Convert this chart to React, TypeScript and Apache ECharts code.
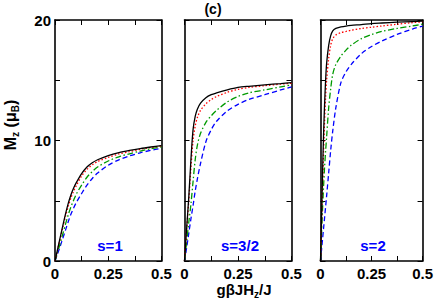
import React, { useEffect, useRef } from 'react';
import * as echarts from 'echarts';

// ---- data ----
const PANEL_LABELS = ['s=1', 's=3/2', 's=2'];
const X_LABEL_VALUES = [0, 0.25, 0.5];
const X_TICK_LABELS = ['0', '0.25', '0.5'];
const Y_LABEL_VALUES = [0, 10, 20];
const Y_TICK_LABELS = ['0', '10', '20'];

// s = 1
const S1_X = [0, 0.0125, 0.025, 0.0375, 0.05, 0.0625, 0.075, 0.0875, 0.1, 0.125, 0.15, 0.175, 0.2, 0.25, 0.3, 0.35, 0.4, 0.45, 0.5];
const S1_BLACK = [0, 1.0, 2.0, 3.0, 3.95, 4.8, 5.5, 6.05, 6.5, 7.25, 7.8, 8.15, 8.4, 8.75, 9.0, 9.18, 9.33, 9.46, 9.58];
const S1_RED = [0, 0.95, 1.9, 2.85, 3.75, 4.55, 5.25, 5.8, 6.25, 7.05, 7.6, 7.98, 8.25, 8.6, 8.88, 9.08, 9.27, 9.42, 9.55];
const S1_GREEN = [0, 0.75, 1.5, 2.3, 3.1, 3.85, 4.5, 5.05, 5.55, 6.3, 6.95, 7.42, 7.8, 8.3, 8.65, 8.9, 9.12, 9.31, 9.47];
const S1_BLUE = [0, 0.63, 1.25, 1.93, 2.6, 3.28, 3.9, 4.4, 4.85, 5.6, 6.3, 6.85, 7.3, 7.95, 8.4, 8.72, 8.98, 9.18, 9.35];

// s = 3/2
const S2_X = [0, 0.01, 0.02, 0.03, 0.04, 0.05, 0.06, 0.075, 0.1, 0.125, 0.15, 0.2, 0.25, 0.3, 0.375, 0.45, 0.5];
const S2_BLACK = [0, 2.7, 5.3, 8.4, 10.9, 12.0, 12.6, 13.1, 13.55, 13.8, 13.95, 14.2, 14.4, 14.5, 14.62, 14.72, 14.8];
const S2_RED = [0, 2.6, 5.0, 7.7, 10.0, 11.2, 11.9, 12.5, 13.05, 13.4, 13.65, 14.0, 14.24, 14.4, 14.55, 14.68, 14.75];
const S2_GREEN = [0, 1.6, 3.2, 4.7, 6.6, 8.4, 9.6, 10.6, 11.5, 12.05, 12.5, 13.2, 13.65, 13.95, 14.2, 14.45, 14.6];
const S2_BLUE = [0, 1.1, 2.3, 3.5, 4.6, 5.8, 6.8, 8.1, 9.9, 10.9, 11.6, 12.45, 13.0, 13.4, 13.8, 14.2, 14.45];

// s = 2
const S3_X = [0, 0.005, 0.01, 0.015, 0.02, 0.025, 0.03, 0.04, 0.05, 0.06, 0.075, 0.1, 0.125, 0.15, 0.2, 0.25, 0.3, 0.375, 0.45, 0.5];
const S3_BLACK = [0, 3.5, 7.2, 10.5, 13.0, 15.0, 16.4, 17.9, 18.7, 19.1, 19.3, 19.42, 19.5, 19.55, 19.62, 19.7, 19.75, 19.82, 19.87, 19.9];
const S3_RED = [0, 3.0, 6.2, 9.0, 11.6, 13.6, 15.0, 16.8, 17.9, 18.45, 18.75, 18.95, 19.05, 19.15, 19.3, 19.4, 19.5, 19.65, 19.78, 19.85];
const S3_GREEN = [0, 2.2, 4.3, 6.2, 7.8, 9.1, 10.3, 12.7, 14.3, 15.5, 16.3, 17.0, 17.5, 17.9, 18.45, 18.8, 19.05, 19.3, 19.5, 19.65];
const S3_BLUE = [0, 0.9, 1.8, 2.7, 3.6, 4.5, 5.4, 7.3, 9.2, 10.8, 12.7, 14.8, 15.7, 16.3, 17.2, 17.8, 18.25, 18.8, 19.25, 19.5];

const PANELS = [
  { x: S1_X, black: S1_BLACK, red: S1_RED, green: S1_GREEN, blue: S1_BLUE },
  { x: S2_X, black: S2_BLACK, red: S2_RED, green: S2_GREEN, blue: S2_BLUE },
  { x: S3_X, black: S3_BLACK, red: S3_RED, green: S3_GREEN, blue: S3_BLUE },
];

const FONT = 'Arial, "Liberation Sans", Helvetica, sans-serif';
const GRIDS = [
  { left: 55, top: 20, width: 106.5, height: 241 },
  { left: 184.5, top: 20, width: 107, height: 241 },
  { left: 320.5, top: 20, width: 103, height: 241 },
];

const STYLES = [
  { key: 'blue', color: '#0000ff', type: [5, 3] as any },
  { key: 'green', color: '#009a00', type: [6, 2.5, 1.5, 2.5] as any },
  { key: 'red', color: '#ff0000', type: [1.5, 2] as any },
  { key: 'black', color: '#000000', type: 'solid' as any },
];

function labelFor(values: number[], labels: string[]) {
  return (v: number) => {
    for (let i = 0; i < values.length; i++) {
      if (Math.abs(v - values[i]) < 1e-9) return labels[i];
    }
    return '';
  };
}

export default function App() {
  const ref = useRef<HTMLDivElement>(null);
  useEffect(() => {
    if (!ref.current) return;
    const chart = echarts.init(ref.current, null, { renderer: 'svg' });
    const axisLine = { show: true, onZero: false, lineStyle: { color: '#000', width: 1.6 } };
    const tick = { show: true, inside: true, length: 5, lineStyle: { color: '#000', width: 1 } };
    const labelFont = { fontFamily: FONT, fontWeight: 'bold', fontSize: 15, color: '#000' };

    const xAxis: any[] = [];
    const yAxis: any[] = [];
    const series: any[] = [];
    GRIDS.forEach((_, i) => {
      xAxis.push({
        type: 'value', gridIndex: i, min: 0, max: 0.5, interval: 0.125, position: 'bottom',
        axisLine, axisTick: tick, splitLine: { show: false },
        axisLabel: { ...labelFont, margin: 5, formatter: labelFor(X_LABEL_VALUES, X_TICK_LABELS) },
      });
      xAxis.push({
        type: 'value', gridIndex: i, min: 0, max: 0.5, interval: 0.125, position: 'top',
        axisLine, axisTick: tick, splitLine: { show: false }, axisLabel: { show: false },
      });
      yAxis.push({
        type: 'value', gridIndex: i, min: 0, max: 20, interval: 5, position: 'left',
        axisLine, axisTick: tick, splitLine: { show: false },
        axisLabel: i === 0
          ? { ...labelFont, margin: 4, formatter: labelFor(Y_LABEL_VALUES, Y_TICK_LABELS) }
          : { show: false },
      });
      yAxis.push({
        type: 'value', gridIndex: i, min: 0, max: 20, interval: 5, position: 'right',
        axisLine, axisTick: tick, splitLine: { show: false }, axisLabel: { show: false },
      });
      const p: any = PANELS[i];
      STYLES.forEach((s) => {
        series.push({
          type: 'line', xAxisIndex: i * 2, yAxisIndex: i * 2, showSymbol: false, symbol: 'none',
          smooth: 0.3,
          lineStyle: { color: s.color, width: 1.3, type: s.type },
          data: p.x.map((x: number, k: number) => [x, p[s.key][k]]),
          silent: true, z: 3,
        });
      });
    });

    const panelCenters = [110, 240, 373];
    const graphic: any[] = PANEL_LABELS.map((t, i) => ({
      type: 'text', x: panelCenters[i], y: 245,
      style: { text: t, fill: '#0000ff', font: `bold 15px ${FONT}`, textAlign: 'center', textVerticalAlign: 'middle' },
      z: 10,
    }));
    graphic.push({
      type: 'text', x: 213, y: 9,
      style: { text: '(c)', fill: '#000', font: `bold 14px ${FONT}`, textAlign: 'center', textVerticalAlign: 'middle' },
    });
    graphic.push({
      type: 'text', x: 244, y: 289,
      style: {
        text: '{m|gβJH}{s|z}{m|/J}', textAlign: 'center', textVerticalAlign: 'middle',
        rich: {
          m: { fontFamily: FONT, fontWeight: 'bold', fontSize: 15, fill: '#000', lineHeight: 20, verticalAlign: 'middle' },
          s: { fontFamily: FONT, fontWeight: 'bold', fontSize: 10, fill: '#000', lineHeight: 10, verticalAlign: 'bottom' },
        },
      },
    });
    graphic.push({
      type: 'text', x: 10, y: 125, rotation: Math.PI / 2,
      style: {
        text: '{m|M}{s|z}{m| (μ}{s|B}{m|)}', textAlign: 'center', textVerticalAlign: 'middle',
        rich: {
          m: { fontFamily: FONT, fontWeight: 'bold', fontSize: 16, fill: '#000', lineHeight: 20, verticalAlign: 'middle' },
          s: { fontFamily: FONT, fontWeight: 'bold', fontSize: 10, fill: '#000', lineHeight: 10, verticalAlign: 'bottom' },
        },
      },
    });

    chart.setOption({
      animation: false,
      backgroundColor: '#ffffff',
      grid: GRIDS.map((g) => ({ ...g, containLabel: false })),
      xAxis, yAxis, series, graphic,
    });
    return () => chart.dispose();
  }, []);
  return (
    <div ref={ref} style={{ position: 'fixed', left: 0, top: 0, width: 436, height: 303, background: '#fff' }} />
  );
}
